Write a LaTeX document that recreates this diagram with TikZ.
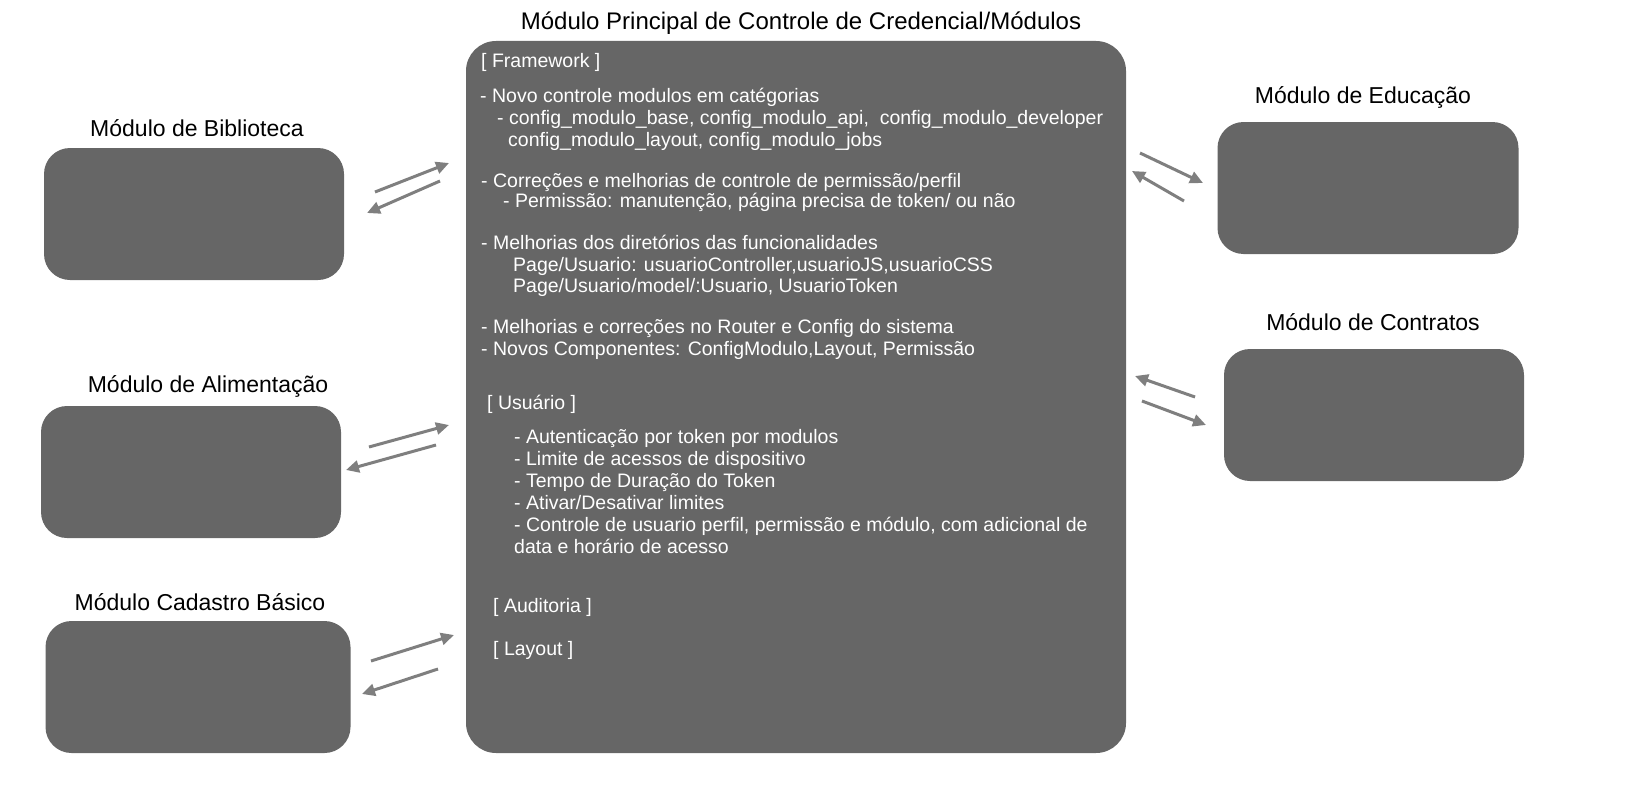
\documentclass[tikz,border=0pt]{standalone}
\usepackage{fontspec}
\setmainfont{Liberation Sans}
\usetikzlibrary{positioning,arrows.meta}
\definecolor{boxgray}{HTML}{666666}
\definecolor{arrgray}{HTML}{7F7F7F}
\tikzset{
  modbox/.style={fill=boxgray, rounded corners=26pt, minimum width=300pt, minimum height=132pt, inner sep=0pt},
  modtitle/.style={font=\fontsize{23}{27}\selectfont, inner sep=0pt},
  txt/.style={anchor=west, text=white, inner sep=0pt, font=\fontsize{19.5}{22}\selectfont, text height=14pt, text depth=4pt},
  flow/.style={draw=arrgray, line width=3pt, -{Triangle[length=13pt,width=12pt]}}
}

\begin{document}
\begin{tikzpicture}[x=1pt,y=-1pt]
\useasboundingbox (0,0) rectangle (1630,792);

% main module
\node[modbox, minimum width=660pt, minimum height=712pt, rounded corners=30pt] (main) at (796,397) {};
\node[modtitle, font=\fontsize{24}{28}\selectfont] (main_t) at (801,23) {Módulo Principal de Controle de Credencial/Módulos};

% side modules
\node[modbox] (bib) at (194,214) {};
\node[modtitle] (bib_t) at (197,128) {Módulo de Biblioteca};
\node[modbox] (ali) at (191,472) {};
\node[modtitle] (ali_t) at (208,386) {Módulo de Alimentação};
\node[modbox, minimum width=305pt] (cad) at (198,687) {};
\node[modtitle] (cad_t) at (200,602) {Módulo Cadastro Básico};
\node[modbox, minimum width=301pt] (edu) at (1368,188) {};
\node[modtitle] (edu_t) at (1363,97) {Módulo de Educação};
\node[modbox] (con) at (1374,415) {};
\node[modtitle] (con_t) at (1373,322) {Módulo de Contratos};

% text of the main module
\node[txt] (l1) at (481,62) {[ Framework ]};
\node[txt] (l2) at (480,97) {- Novo controle modulos em catégorias};
\node[txt] (l3) at (497,119) {- config\_modulo\_base, config\_modulo\_api,\ \ config\_modulo\_developer};
\node[txt] (l4) at (508,141) {config\_modulo\_layout, config\_modulo\_jobs};
\node[txt] (l5) at (481,182) {- Correções e melhorias de controle de permissão/perfil};
\node[txt] (l6) at (503,202) {- Permissão: manutenção, página precisa de token/ ou não};
\node[txt] (l7) at (481,244) {- Melhorias dos diretórios das funcionalidades};
\node[txt] (l8) at (513,266) {Page/Usuario: usuarioController,usuarioJS,usuarioCSS};
\node[txt] (l9) at (513,287) {Page/Usuario/model/:Usuario, UsuarioToken};
\node[txt] (l10) at (481,328) {- Melhorias e correções no Router e Config do sistema};
\node[txt] (l11) at (481,350) {- Novos Componentes: ConfigModulo,Layout, Permissão};
\node[txt] (l12) at (487,404) {[ Usuário ]};
\node[txt] (l13) at (514,438) {- Autenticação por token por modulos};
\node[txt] (l14) at (514,460) {- Limite de acessos de dispositivo};
\node[txt] (l15) at (514,482) {- Tempo de Duração do Token};
\node[txt] (l16) at (514,504) {- Ativar/Desativar limites};
\node[txt] (l17) at (514,526) {- Controle de usuario perfil, permissão e módulo, com adicional de};
\node[txt] (l18) at (514,548) {data e horário de acesso};
\node[txt] (l19) at (493,607) {[ Auditoria ]};
\node[txt] (l20) at (493,650) {[ Layout ]};

% arrow ends
\coordinate (bib_a) at (375,192); \coordinate (bib_b) at (449,163);
\coordinate (bib_c) at (440,181); \coordinate (bib_d) at (367,213);
\coordinate (ali_a) at (369,447); \coordinate (ali_b) at (449,425);
\coordinate (ali_c) at (436,445); \coordinate (ali_d) at (346,470);
\coordinate (cad_a) at (371,661); \coordinate (cad_b) at (454,635);
\coordinate (cad_c) at (438,669); \coordinate (cad_d) at (362,694);
\coordinate (edu_a) at (1140,153); \coordinate (edu_b) at (1203,183);
\coordinate (edu_c) at (1184,201); \coordinate (edu_d) at (1132,171);
\coordinate (con_a) at (1195,397); \coordinate (con_b) at (1135,376);
\coordinate (con_c) at (1142,401); \coordinate (con_d) at (1206,425);

\draw[flow] (bib_a) -- (bib_b);
\draw[flow] (bib_c) -- (bib_d);
\draw[flow] (ali_a) -- (ali_b);
\draw[flow] (ali_c) -- (ali_d);
\draw[flow] (cad_a) -- (cad_b);
\draw[flow] (cad_c) -- (cad_d);
\draw[flow] (edu_a) -- (edu_b);
\draw[flow] (edu_c) -- (edu_d);
\draw[flow] (con_a) -- (con_b);
\draw[flow] (con_c) -- (con_d);
\end{tikzpicture}
\end{document}
